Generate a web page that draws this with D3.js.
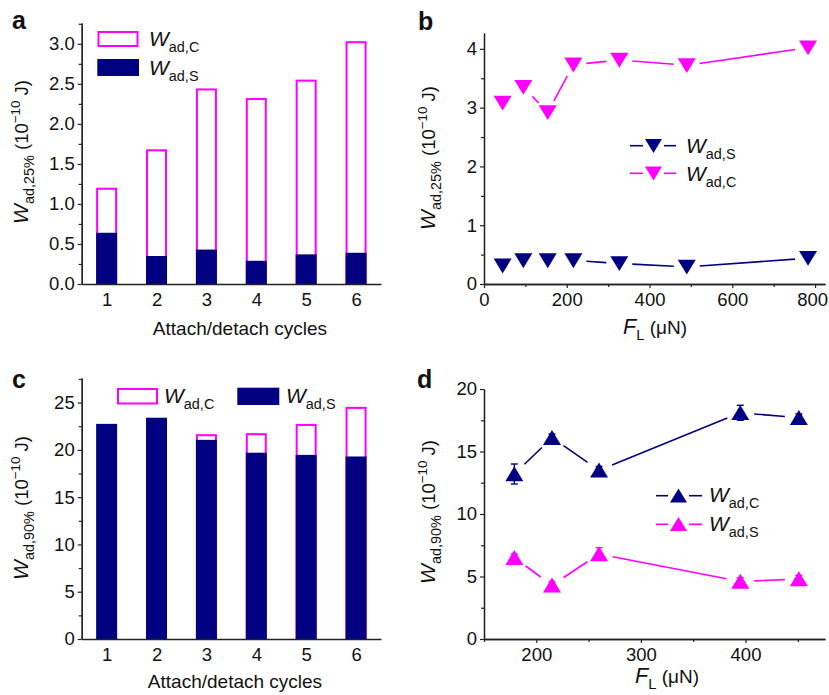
<!DOCTYPE html>
<html>
<head>
<meta charset="utf-8">
<script src="https://cdn.jsdelivr.net/npm/d3@7"></script>
<style>
  body { margin: 0; background: white; }
  text { font-family: "Liberation Sans", Arial, sans-serif; fill: #111; }
</style>
</head>
<body>
<div id="container"></div>
<script>
let w = 829;
let h = 695;

const navy = "#000080";
const magenta = "#ff00ff";

// data
const cycles = [1, 2, 3, 4, 5, 6];
const aWadC = [1.19, 1.67, 2.43, 2.31, 2.54, 3.02];
const aWadS = [0.64, 0.35, 0.43, 0.29, 0.37, 0.39];

const bLoad = [45, 95, 154, 216, 327, 490, 783];
const bWadS = [0.31, 0.40, 0.40, 0.40, 0.35, 0.29, 0.44];
const bWadC = [3.08, 3.35, 2.92, 3.73, 3.81, 3.72, 4.02];

const cWadS = [22.75, 23.4, 21.06, 19.7, 19.47, 19.3];
const cWadC = [null, null, 21.55, 21.66, 22.64, 24.44];

const dLoad = [179, 215, 260, 395, 451];
const dWadC = [13.2, 16.1, 13.5, 18.1, 17.7];
const dErrC = [0.8, 0.3, 0.3, 0.6, 0.3];
const dWadS = [6.5, 4.3, 6.8, 4.6, 4.8];
const dErrS = [0.3, 0.3, 0.5, 0.3, 0.3];

const aTicks = [0, 0.5, 1.0, 1.5, 2.0, 2.5, 3.0];
const bXTicks = [0, 200, 400, 600, 800];
const bYTicks = [0, 1, 2, 3, 4];
const cTicks = [0, 5, 10, 15, 20, 25];
const dXTicks = [200, 300, 400];
const dYTicks = [0, 5, 10, 15, 20];

const tickFont = "18.5px";

let svg = d3.select("#container")
  .append("svg")
  .attr("width", w)
  .attr("height", h);

// text with italic / sub / sup pieces
function rich(sel, parts, size) {
  let t = sel.append("text").style("font-size", size + "px");
  let shift = 0;
  parts.forEach(p => {
    let [str, kind] = p;
    let span = t.append("tspan").text(str);
    let target = 0;
    if (kind === "i") span.style("font-style", "italic").style("font-size", (size + 2.5) + "px");
    if (kind === "sub") { target = size * 0.3; span.style("font-size", (size * 0.78) + "px"); }
    if (kind === "sup") { target = -size * 0.42; span.style("font-size", (size * 0.72) + "px"); }
    if (target !== shift) { span.attr("dy", target - shift); shift = target; }
  });
  return t;
}

function yAxis(g, y, x0, ticks, minor, fmt) {
  g.append("g")
    .attr("transform", `translate(${x0},0)`)
    .call(d3.axisLeft(y).tickValues(minor).tickSize(3).tickSizeOuter(0).tickFormat(""));
  g.append("g")
    .attr("transform", `translate(${x0},0)`)
    .call(d3.axisLeft(y).tickValues(ticks).tickSize(4).tickPadding(3).tickSizeOuter(0).tickFormat(fmt))
    .selectAll("text").style("font-size", tickFont).attr("fill", "#111");
}

function xAxis(g, x, y0, ticks, minor, size, pad) {
  if (minor) {
    g.append("g")
      .attr("transform", `translate(0,${y0})`)
      .call(d3.axisBottom(x).tickValues(minor).tickSize(3).tickSizeOuter(0).tickFormat(""));
  }
  return g.append("g")
    .attr("transform", `translate(0,${y0})`)
    .call(d3.axisBottom(x).tickValues(ticks).tickSize(size).tickPadding(pad).tickSizeOuter(0).tickFormat(d3.format("d")))
    .call(a => a.selectAll("text").style("font-size", tickFont).attr("fill", "#111"));
}

function triDown(s) { return `M${-s},${-s * 0.8}L${s},${-s * 0.8}L0,${s * 0.85}Z`; }
function triUp(s) { return `M${-s},${s * 0.8}L${s},${s * 0.8}L0,${-s * 0.85}Z`; }

function gappedLine(g, xs, ys, x, y, color, gap) {
  for (let i = 0; i < xs.length - 1; i++) {
    let x1 = x(xs[i]), y1 = y(ys[i]), x2 = x(xs[i + 1]), y2 = y(ys[i + 1]);
    let len = Math.hypot(x2 - x1, y2 - y1);
    if (len <= gap * 2) continue;
    let ux = (x2 - x1) / len, uy = (y2 - y1) / len;
    g.append("line")
      .attr("x1", x1 + ux * gap).attr("y1", y1 + uy * gap)
      .attr("x2", x2 - ux * gap).attr("y2", y2 - uy * gap)
      .attr("stroke", color).attr("stroke-width", 1.6);
  }
}

function panelLetter(x, y, s) {
  svg.append("text").attr("x", x).attr("y", y).text(s)
    .style("font-size", "25px").style("font-weight", "bold");
}

function yTitle(x, y, sub) {
  rich(svg, [["W", "i"], [sub, "sub"], [" (10", ""], ["−10", "sup"], [" J)", ""]], 18.5)
    .attr("text-anchor", "middle")
    .attr("transform", `translate(${x},${y}) rotate(-90)`);
}

function legendText(x, y, sub) {
  rich(svg, [["W", "i"], [sub, "sub"]], 18.5).attr("x", x).attr("y", y);
}

// ---------- panel a ----------
let ga = svg.append("g");
let xa = d3.scaleLinear().domain([0.5, 6.5]).range([81.7, 381]);
let ya = d3.scaleLinear().domain([0, 3.26]).range([284, 23]);
let bw = 21;

ga.selectAll(".barC").data(cycles).enter().append("rect")
  .attr("x", d => xa(d) - bw / 2 + 1)
  .attr("y", (d, i) => ya(aWadC[i]))
  .attr("width", bw - 2)
  .attr("height", (d, i) => ya(0) - ya(aWadC[i]))
  .attr("fill", "white").attr("stroke", magenta).attr("stroke-width", 2);

ga.selectAll(".barS").data(cycles).enter().append("rect")
  .attr("x", d => xa(d) - bw / 2)
  .attr("y", (d, i) => ya(aWadS[i]))
  .attr("width", bw)
  .attr("height", (d, i) => ya(0) - ya(aWadS[i]))
  .attr("fill", navy);

yAxis(ga, ya, 81.7, aTicks, d3.range(0.25, 3.26, 0.5), d3.format(".1f"));
xAxis(ga, xa, 284, cycles, null, 0, 9);

ga.append("rect").attr("x", 98.5).attr("y", 32).attr("width", 39).attr("height", 14)
  .attr("fill", "white").attr("stroke", magenta).attr("stroke-width", 2);
ga.append("rect").attr("x", 97.3).attr("y", 59).attr("width", 41.7).attr("height", 17).attr("fill", navy);
legendText(149, 46, "ad,C");
legendText(149, 75, "ad,S");

panelLetter(12, 29, "a");
yTitle(28, 152, "ad,25%");
svg.append("text").attr("x", 240).attr("y", 335).attr("text-anchor", "middle")
  .style("font-size", "19px").text("Attach/detach cycles");

// ---------- panel b ----------
let gb = svg.append("g");
let xb = d3.scaleLinear().domain([0, 824]).range([484, 825]);
let yb = d3.scaleLinear().domain([0, 4.27]).range([284, 33]);

yAxis(gb, yb, 484, bYTicks, [0.5, 1.5, 2.5, 3.5], d3.format("d"));
xAxis(gb, xb, 284, bXTicks, [100, 300, 500, 700], 4, 5)
  .selectAll(".tick text").filter(d => d === 800).attr("dx", -3);

gappedLine(gb, bLoad, bWadC, xb, yb, magenta, 13);
gappedLine(gb, bLoad, bWadS, xb, yb, navy, 13);

gb.selectAll(".mC").data(bLoad).enter().append("path")
  .attr("d", triDown(9))
  .attr("transform", (d, i) => `translate(${xb(d)},${yb(bWadC[i])})`)
  .attr("fill", magenta);
gb.selectAll(".mS").data(bLoad).enter().append("path")
  .attr("d", triDown(9))
  .attr("transform", (d, i) => `translate(${xb(d)},${yb(bWadS[i])})`)
  .attr("fill", navy);

[[navy, 145.7, "ad,S", 153], [magenta, 173.3, "ad,C", 181]].forEach(r => {
  gb.append("line").attr("x1", 630).attr("x2", 643).attr("y1", r[1]).attr("y2", r[1]).attr("stroke", r[0]).attr("stroke-width", 1.6);
  gb.append("line").attr("x1", 664).attr("x2", 676).attr("y1", r[1]).attr("y2", r[1]).attr("stroke", r[0]).attr("stroke-width", 1.6);
  gb.append("path").attr("d", triDown(8.5)).attr("transform", `translate(653.5,${r[1]})`).attr("fill", r[0]);
  legendText(686, r[3], r[2]);
});

panelLetter(418, 30, "b");
yTitle(435, 158, "ad,25%");
rich(svg, [["F", "i"], ["L", "sub"], [" (μN)", ""]], 19)
  .attr("x", 655).attr("y", 334).attr("text-anchor", "middle");

// ---------- panel c ----------
let gc = svg.append("g");
let xc = d3.scaleLinear().domain([0.5, 6.5]).range([81.7, 381]);
let yc = d3.scaleLinear().domain([0, 27.6]).range([639, 378]);

gc.selectAll(".barC").data(cycles.filter((d, i) => cWadC[i] !== null)).enter().append("rect")
  .attr("x", d => xc(d) - bw / 2 + 1)
  .attr("y", d => yc(cWadC[d - 1]))
  .attr("width", bw - 2)
  .attr("height", d => yc(0) - yc(cWadC[d - 1]))
  .attr("fill", "white").attr("stroke", magenta).attr("stroke-width", 2);

gc.selectAll(".barS").data(cycles).enter().append("rect")
  .attr("x", d => xc(d) - bw / 2)
  .attr("y", (d, i) => yc(cWadS[i]))
  .attr("width", bw)
  .attr("height", (d, i) => yc(0) - yc(cWadS[i]))
  .attr("fill", navy);

yAxis(gc, yc, 81.7, cTicks, [2.5, 7.5, 12.5, 17.5, 22.5, 27.5], d3.format("d"));
xAxis(gc, xc, 639, cycles, null, 0, 9);

gc.append("rect").attr("x", 118).attr("y", 389).attr("width", 39).attr("height", 14.5)
  .attr("fill", "white").attr("stroke", magenta).attr("stroke-width", 2);
gc.append("rect").attr("x", 237.3).attr("y", 387.7).attr("width", 42).attr("height", 17.3).attr("fill", navy);
legendText(164, 403, "ad,C");
legendText(286, 403, "ad,S");

panelLetter(12, 388, "c");
yTitle(28, 508, "ad,90%");
svg.append("text").attr("x", 235).attr("y", 688).attr("text-anchor", "middle")
  .style("font-size", "19px").text("Attach/detach cycles");

// ---------- panel d ----------
let gd = svg.append("g");
let xd = d3.scaleLinear().domain([150, 476]).range([484, 825]);
let yd = d3.scaleLinear().domain([0, 20]).range([639, 389]);

yAxis(gd, yd, 484, dYTicks, [2.5, 7.5, 12.5, 17.5], d3.format("d"));
xAxis(gd, xd, 639, dXTicks, [150, 250, 350, 450], 4, 5);

gappedLine(gd, dLoad, dWadC, xd, yd, navy, 14);
gappedLine(gd, dLoad, dWadS, xd, yd, magenta, 14);

[[dWadC, dErrC, navy], [dWadS, dErrS, magenta]].forEach(s => {
  let [vals, errs, col] = s;
  dLoad.forEach((d, i) => {
    let cx = xd(d);
    gd.append("line").attr("x1", cx).attr("x2", cx)
      .attr("y1", yd(vals[i] - errs[i])).attr("y2", yd(vals[i] + errs[i]))
      .attr("stroke", col).attr("stroke-width", 1.4);
    [vals[i] - errs[i], vals[i] + errs[i]].forEach(v => {
      gd.append("line").attr("x1", cx - 3.5).attr("x2", cx + 3.5)
        .attr("y1", yd(v)).attr("y2", yd(v)).attr("stroke", col).attr("stroke-width", 1.4);
    });
  });
  gd.selectAll(null).data(dLoad).enter().append("path")
    .attr("d", triUp(9))
    .attr("transform", (d, i) => `translate(${xd(d)},${yd(vals[i])})`)
    .attr("fill", col);
});

[[navy, 495.7, "ad,C", 502], [magenta, 524.3, "ad,S", 531]].forEach(r => {
  gd.append("line").attr("x1", 656).attr("x2", 668).attr("y1", r[1]).attr("y2", r[1]).attr("stroke", r[0]).attr("stroke-width", 1.6);
  gd.append("line").attr("x1", 689).attr("x2", 702).attr("y1", r[1]).attr("y2", r[1]).attr("stroke", r[0]).attr("stroke-width", 1.6);
  gd.append("path").attr("d", triUp(8.5)).attr("transform", `translate(678.5,${r[1]})`).attr("fill", r[0]);
  legendText(709, r[3], r[2]);
});

panelLetter(417, 388, "d");
yTitle(435, 512, "ad,90%");
rich(svg, [["F", "i"], ["L", "sub"], [" (μN)", ""]], 19)
  .attr("x", 667).attr("y", 683).attr("text-anchor", "middle");

svg.selectAll(".domain").attr("stroke", "#222").attr("stroke-width", 1.3);
svg.selectAll(".tick line").attr("stroke", "#222").attr("stroke-width", 1.2);
</script>
</body>
</html>
